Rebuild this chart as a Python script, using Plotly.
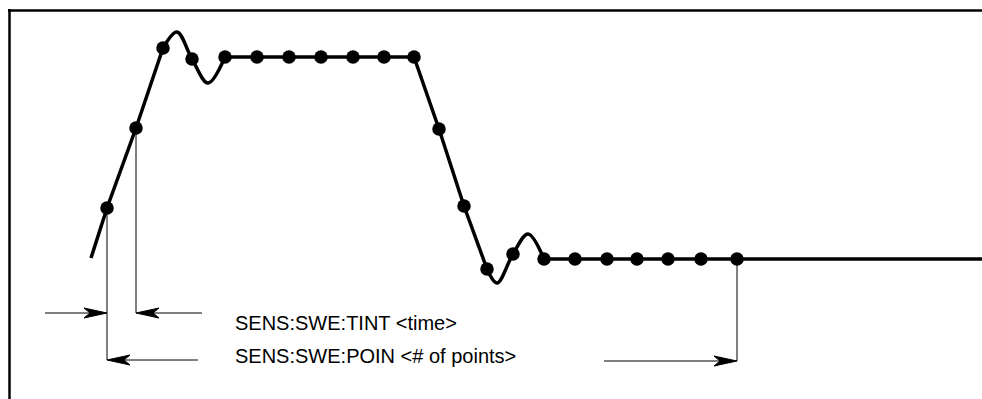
import plotly.graph_objects as go

# Waveform segments (diagram coordinates = page pixels, y grows downward)
rise_x = [91, 107, 136, 163]
rise_y = [258, 208, 128, 48]
wig1_x = [163, 177, 192, 208, 225]
wig1_y = [48, 32, 59, 83, 57]
top_x = [225, 414]
top_y = [57, 57]
fall_x = [414, 439, 464, 487]
fall_y = [57, 129, 206, 269]
wig2_x = [487, 497, 513, 528, 544]
wig2_y = [269, 283, 254, 234, 259]
base_x = [544, 982]
base_y = [259, 259]

# Sample points
dot_x = [107, 136, 163, 192, 225, 257, 289, 321, 353, 384, 414,
         439, 464, 487, 513, 544, 575, 607, 637, 668, 701, 737]
dot_y = [208, 128, 48, 59, 57, 57, 57, 57, 57, 57, 57,
         129, 206, 269, 254, 259, 259, 259, 259, 259, 259, 259]

labels = ["SENS:SWE:TINT <time>", "SENS:SWE:POIN <# of points>"]
label_y = [323, 356]

W, H = 982, 399

fig = go.Figure()
lw = 3.5
for xs, ys, shp in [(rise_x, rise_y, "linear"), (wig1_x, wig1_y, "spline"),
                    (top_x, top_y, "linear"), (fall_x, fall_y, "linear"),
                    (wig2_x, wig2_y, "spline"), (base_x, base_y, "linear")]:
    fig.add_trace(go.Scatter(x=xs, y=ys, mode="lines",
                             line=dict(color="black", width=lw, shape=shp, smoothing=1.0),
                             hoverinfo="skip", showlegend=False))

fig.add_trace(go.Scatter(x=dot_x, y=dot_y, mode="markers",
                         marker=dict(color="black", size=13.5, symbol="circle"),
                         showlegend=False, hoverinfo="skip"))

# Frame (top and left edges)
fig.add_shape(type="line", x0=8, y0=10.5, x1=982, y1=10.5, line=dict(color="black", width=2.5))
fig.add_shape(type="line", x0=9.5, y0=9, x1=9.5, y1=399, line=dict(color="black", width=2.5))

# Extension lines
thin = dict(color="black", width=1)
fig.add_shape(type="line", x0=dot_x[0], y0=dot_y[0], x1=dot_x[0], y1=360, line=thin)
fig.add_shape(type="line", x0=dot_x[1], y0=dot_y[1], x1=dot_x[1], y1=313, line=thin)
fig.add_shape(type="line", x0=dot_x[-1], y0=dot_y[-1], x1=dot_x[-1], y1=361, line=thin)

# Dimension arrows with barbed heads
def arrow(x_tip, x_tail, y):
    d = 1 if x_tip > x_tail else -1
    fig.add_shape(type="line", x0=x_tail, y0=y, x1=x_tip - d * 8, y1=y, line=thin)
    L, hw, notch = 23, 5, 17
    p = (f"M{x_tip},{y} "
         f"L{x_tip - d * L},{y - hw} "
         f"L{x_tip - d * notch},{y} "
         f"L{x_tip - d * L},{y + hw} Z")
    fig.add_shape(type="path", path=p, fillcolor="black", line=dict(color="black", width=1))

arrow(dot_x[0], 45, 313)
arrow(dot_x[1], 202, 313)
arrow(dot_x[0], 198, 360)
arrow(dot_x[-1], 604, 361)

for t, yy in zip(labels, label_y):
    fig.add_annotation(x=233, y=yy, text=t, showarrow=False, xref="x", yref="y",
                       xanchor="left", yanchor="middle",
                       font=dict(family="Liberation Sans, Arial, sans-serif", size=20, color="black"))

fig.update_layout(width=W, height=H, autosize=False,
                  margin=dict(l=0, r=0, t=0, b=0),
                  paper_bgcolor="white", plot_bgcolor="white",
                  xaxis=dict(range=[0, W], visible=False, fixedrange=True),
                  yaxis=dict(range=[H, 0], visible=False, fixedrange=True),
                  showlegend=False, hovermode=False)

fig.write_html("out.html", config={"displayModeBar": False, "staticPlot": True},
               post_script="document.body.style.margin='0';document.body.style.overflow='hidden';")
